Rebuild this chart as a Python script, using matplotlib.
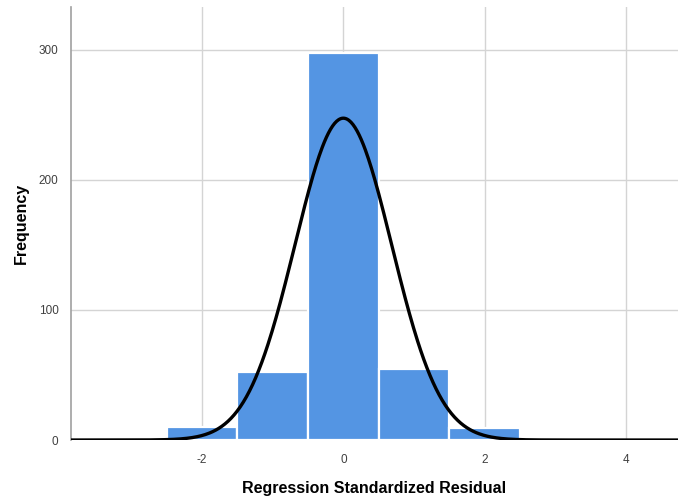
import numpy as np
import matplotlib.pyplot as plt

plt.rcParams['font.family'] = ['Liberation Sans', 'DejaVu Sans']
plt.rcParams['axes.unicode_minus'] = False

# histogram bins (centres) and counts
bin_centers = [-2, -1, 0, 1, 2, 3]
counts = [10, 52, 298, 55, 9, 1]
bin_width = 1.0

# normal curve parameters (mean / std dev of residuals)
res_mean = 0.0
res_std = 0.685
n_total = sum(counts)

x_ticks = [-2, 0, 2, 4]
y_ticks = [0, 100, 200, 300]

fig = plt.figure(figsize=(6.78, 5.03), dpi=100)
ax = fig.add_axes([0.1047, 0.1252, 0.8953, 0.8608])

ax.bar(bin_centers, counts, width=bin_width, color='#5495e3',
       edgecolor='white', linewidth=1.6, zorder=2)

xs = np.linspace(-3.9, 4.8, 600)
ys = n_total * bin_width / (res_std * np.sqrt(2 * np.pi)) * np.exp(-(xs - res_mean) ** 2 / (2 * res_std ** 2))
ax.plot(xs, ys, color='black', linewidth=2.4, zorder=3, solid_capstyle='butt')

ax.set_xlim(-3.857, 4.74)
ax.set_ylim(0, 333)
ax.set_xticks(x_ticks)
ax.set_yticks(y_ticks)
ax.grid(True, color='#d4d4d4', linewidth=1.0, zorder=0)
ax.set_axisbelow(True)

for s in ['top', 'right', 'bottom']:
    ax.spines[s].set_visible(False)
ax.spines['left'].set_color('#a0a0a0')
ax.spines['left'].set_linewidth(1.2)

ax.tick_params(length=0, labelsize=8.5, labelcolor='#404040')
ax.tick_params(axis='x', pad=10)
ax.tick_params(axis='y', pad=9)

ax.set_xlabel('Regression Standardized Residual', fontsize=11.5, fontweight='bold', labelpad=11)
ax.set_ylabel('Frequency', fontsize=11.5, fontweight='bold', labelpad=7)

fig.savefig('out.png', dpi=100)
